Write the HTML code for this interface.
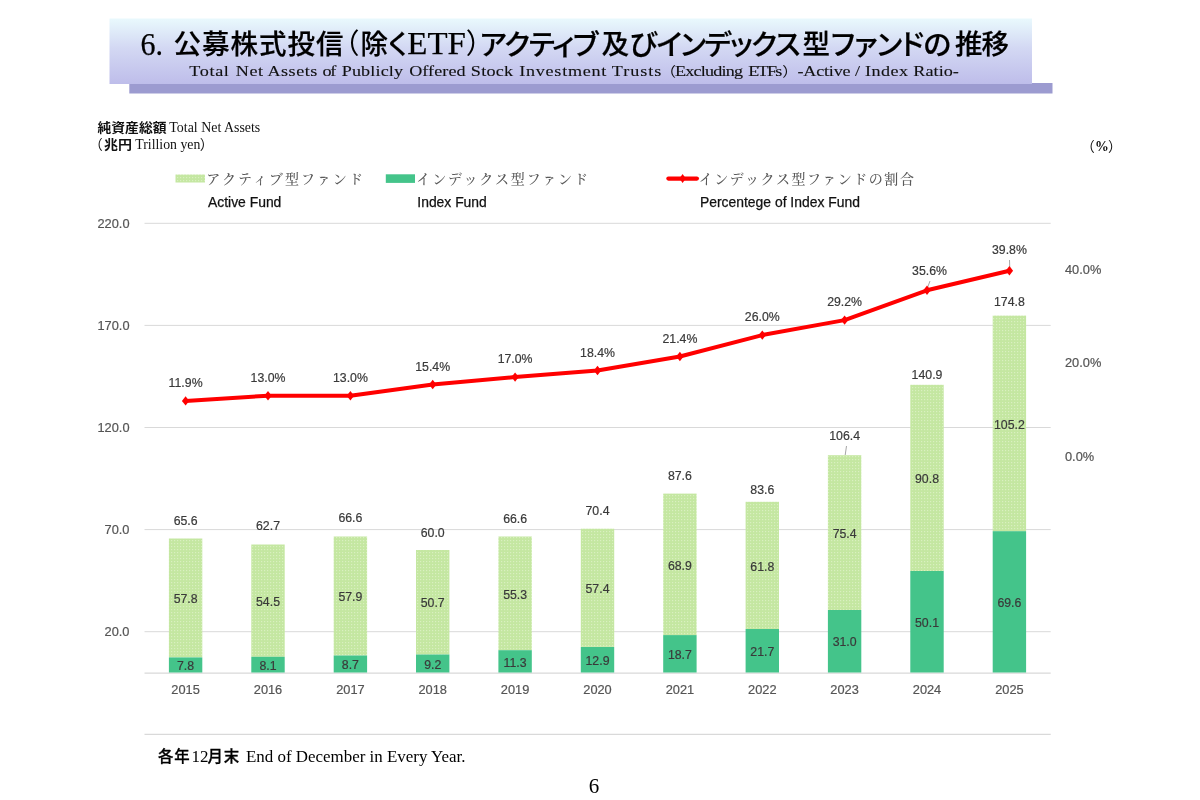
<!DOCTYPE html>
<html lang="ja">
<head>
<meta charset="utf-8">
<title>6. 公募株式投信（除くETF）アクティブ及びインデックス型ファンドの推移</title>
<style>
html,body{margin:0;padding:0;background:#fff;}
body{width:1200px;height:800px;overflow:hidden;}
svg{display:block;}
.ax{font-family:"Liberation Sans","Noto Sans CJK JP",sans-serif;font-size:12.8px;fill:#555;stroke:#555;stroke-width:0.2px;}
.dl{font-family:"Liberation Sans","Noto Sans CJK JP",sans-serif;font-size:12.3px;fill:#3a3a3a;stroke:#3a3a3a;stroke-width:0.2px;}
.lgj{font-family:"Liberation Serif","Noto Serif CJK SC",serif;font-size:14px;font-weight:500;fill:#5a5a5a;letter-spacing:1.1px;}
.lge{font-family:"Liberation Sans","Noto Sans CJK JP",sans-serif;font-size:13.9px;fill:#111;stroke:#111;stroke-width:0.25px;}
.ttl{font-family:"Liberation Serif","Noto Sans CJK JP",serif;font-size:27.5px;font-weight:500;fill:#000;stroke:#000;stroke-width:0.2px;font-feature-settings:"palt";}
.ttls{font-family:"Liberation Serif","Noto Sans CJK JP",serif;font-size:28px;font-weight:400;fill:#000;stroke-width:0;font-feature-settings:normal;}
.sub{font-family:"Liberation Serif","Noto Sans CJK JP",serif;font-size:15.5px;fill:#111;stroke:#111;stroke-width:0.12px;}
.ayt{font-family:"Liberation Serif","Noto Sans CJK JP",serif;font-size:13.8px;fill:#111;}
.ayt .b{font-weight:700;font-size:13px;}
.ft{font-family:"Liberation Serif","Noto Sans CJK JP",serif;font-size:17px;fill:#000;}
.ft .b{font-weight:500;font-size:15.4px;letter-spacing:0.9px;stroke:#000;stroke-width:0.3px;}
.pg{font-family:"Liberation Serif","Noto Sans CJK JP",serif;font-size:21px;fill:#000;}
</style>
</head>
<body>
<svg width="1200" height="800" viewBox="0 0 1200 800">
<defs>
<linearGradient id="hg" x1="0" y1="0" x2="0" y2="1">
<stop offset="0" stop-color="#e9f9fd"/>
<stop offset="0.45" stop-color="#d3d8f3"/>
<stop offset="1" stop-color="#bebdea"/>
</linearGradient>
<pattern id="dots" x="0" y="0" width="3" height="3" patternUnits="userSpaceOnUse">
<rect x="0" y="0" width="3" height="3" fill="#c4e7a1"/>
<rect x="0" y="0" width="1.2" height="1.2" fill="#d9f0c0"/>
</pattern>
</defs>
<rect x="0" y="0" width="1200" height="800" fill="#ffffff"/>

<rect x="129.3" y="83" width="923.2" height="10.5" fill="#9c9bd0"/>
<rect x="109.5" y="18.5" width="922.5" height="65.5" fill="url(#hg)"/>
<text class="ttl ttls" x="140.5" y="55" textLength="22.5" style="font-size:31px;stroke:#000;stroke-width:0.25px" lengthAdjust="spacingAndGlyphs">6.</text>
<text class="ttl" x="173.5" y="54.2" textLength="170" lengthAdjust="spacing">公募株式投信</text>
<text class="ttl ttls" x="331.5" y="54.2">（</text>
<text class="ttl" x="360.5" y="54.2" textLength="47" lengthAdjust="spacing">除く</text>
<text class="ttl ttls" x="407.3" y="54.1" textLength="58.5" style="font-size:31px;stroke:#000;stroke-width:0.25px" lengthAdjust="spacingAndGlyphs">ETF</text>
<text class="ttl ttls" x="465.7" y="54.2">）</text>
<text class="ttl" x="479.8" y="54.7" textLength="118.5" lengthAdjust="spacing" style="font-size:28.8px">アクティブ</text>
<text class="ttl" x="601.5" y="54.2">及</text>
<text class="ttl" x="629.5" y="54.7" style="font-size:28.8px">び</text>
<text class="ttl" x="656.5" y="54.7" textLength="144" lengthAdjust="spacing" style="font-size:28.8px">インデックス</text>
<text class="ttl" x="802.5" y="54.2">型</text>
<text class="ttl" x="831" y="54.7" textLength="93" lengthAdjust="spacing" style="font-size:28.8px">ファンド</text>
<text class="ttl" x="923.5" y="54.7" style="font-size:28.8px">の</text>
<text class="ttl" x="955" y="54.2" textLength="54" lengthAdjust="spacing">推移</text>
<text class="sub" y="76" transform="scale(1.17 1)"><tspan x="161.71" textLength="33.93" lengthAdjust="spacing">Total</tspan> <tspan x="201.54" textLength="23.33" lengthAdjust="spacing">Net</tspan> <tspan x="228.63" textLength="42.56" lengthAdjust="spacing">Assets</tspan> <tspan x="275.64" textLength="11.88" lengthAdjust="spacing">of</tspan> <tspan x="292.05" textLength="52.48" lengthAdjust="spacing">Publicly</tspan> <tspan x="349.74" textLength="48.21" lengthAdjust="spacing">Offered</tspan> <tspan x="402.39" textLength="36.15" lengthAdjust="spacing">Stock</tspan> <tspan x="443.76" textLength="74.53" lengthAdjust="spacing">Investment</tspan> <tspan x="522.82" textLength="42.48" lengthAdjust="spacing">Trusts</tspan> <tspan x="564.36" style="font-size:13.5px;stroke-width:0">（</tspan><tspan x="576.92" textLength="58.21" lengthAdjust="spacing">Excluding</tspan> <tspan x="639.57" textLength="29.06" lengthAdjust="spacing">ETFs</tspan> <tspan x="668.63" style="font-size:13.5px;stroke-width:0">）</tspan><tspan x="681.62" textLength="45.38" lengthAdjust="spacing">-Active</tspan> <tspan x="730.77" textLength="4.79" lengthAdjust="spacing">/</tspan> <tspan x="739.32" textLength="36.84" lengthAdjust="spacing">Index</tspan> <tspan x="780.60" textLength="38.97" lengthAdjust="spacing">Ratio-</tspan> </text>
<text class="ayt" x="97.5" y="131.5"><tspan class="b" textLength="69" lengthAdjust="spacingAndGlyphs">純資産総額</tspan><tspan x="169.3" textLength="91" lengthAdjust="spacingAndGlyphs">Total Net Assets</tspan></text>
<text class="ayt" y="148.5"><tspan x="89">（</tspan><tspan class="b" x="104" textLength="28" lengthAdjust="spacingAndGlyphs">兆円</tspan><tspan x="135.3" textLength="65" lengthAdjust="spacingAndGlyphs">Trillion yen</tspan><tspan x="199.8">）</tspan></text>
<text class="ayt" y="151" font-size="12.5"><tspan x="1081">（</tspan><tspan x="1095" font-weight="700">%</tspan><tspan x="1108">）</tspan></text>
<rect x="175.5" y="174.5" width="29.5" height="8" fill="url(#dots)"/>
<text class="lgj" x="206.3" y="184" textLength="157.7" lengthAdjust="spacing">アクティブ型ファンド</text>
<text class="lge" x="208" y="207">Active Fund</text>
<rect x="385.8" y="174.3" width="29.2" height="8.6" fill="#44c48a"/>
<text class="lgj" x="416.3" y="184" textLength="172.7" lengthAdjust="spacing">インデックス型ファンド</text>
<text class="lge" x="417.3" y="207">Index Fund</text>
<line x1="668.4" y1="178.6" x2="696.9" y2="178.6" stroke="#ff0000" stroke-width="4.2" stroke-linecap="round"/>
<path d="M682.6 174.1 L685.8 178.6 L682.6 183.1 L679.4 178.6 Z" fill="#ff0000"/>
<text class="lgj" x="698.8" y="184" textLength="216.2" lengthAdjust="spacing">インデックス型ファンドの割合</text>
<text class="lge" x="700" y="207">Percentege of Index Fund</text>
<line x1="144.5" y1="223.3" x2="1050.7" y2="223.3" stroke="#d9d9d9" stroke-width="1"/>
<text class="ax" x="129.5" y="227.8" text-anchor="end">220.0</text>
<line x1="144.5" y1="325.4" x2="1050.7" y2="325.4" stroke="#d9d9d9" stroke-width="1"/>
<text class="ax" x="129.5" y="329.9" text-anchor="end">170.0</text>
<line x1="144.5" y1="427.5" x2="1050.7" y2="427.5" stroke="#d9d9d9" stroke-width="1"/>
<text class="ax" x="129.5" y="432.0" text-anchor="end">120.0</text>
<line x1="144.5" y1="529.6" x2="1050.7" y2="529.6" stroke="#d9d9d9" stroke-width="1"/>
<text class="ax" x="129.5" y="534.1" text-anchor="end">70.0</text>
<line x1="144.5" y1="631.7" x2="1050.7" y2="631.7" stroke="#d9d9d9" stroke-width="1"/>
<text class="ax" x="129.5" y="636.2" text-anchor="end">20.0</text>
<line x1="144.5" y1="673.1" x2="1050.7" y2="673.1" stroke="#d9d9d9" stroke-width="1.3"/>
<text class="ax" x="1065" y="273.8">40.0%</text>
<text class="ax" x="1065" y="367.2">20.0%</text>
<text class="ax" x="1065" y="460.5">0.0%</text>
<rect x="168.9" y="538.5" width="33.4" height="118.8" fill="url(#dots)"/>
<rect x="168.9" y="657.4" width="33.4" height="15.1" fill="#44c48a"/>
<text class="dl" x="185.6" y="603.2" text-anchor="middle">57.8</text>
<text class="dl" x="185.6" y="670.1" text-anchor="middle">7.8</text>
<text class="dl" x="185.6" y="525.2" text-anchor="middle">65.6</text>
<text class="ax" x="185.6" y="694.0" text-anchor="middle">2015</text>
<rect x="251.3" y="544.5" width="33.4" height="112.3" fill="url(#dots)"/>
<rect x="251.3" y="656.8" width="33.4" height="15.7" fill="#44c48a"/>
<text class="dl" x="268.0" y="605.8" text-anchor="middle">54.5</text>
<text class="dl" x="268.0" y="669.8" text-anchor="middle">8.1</text>
<text class="dl" x="268.0" y="530.2" text-anchor="middle">62.7</text>
<text class="ax" x="268.0" y="694.0" text-anchor="middle">2016</text>
<rect x="333.7" y="536.5" width="33.4" height="119.0" fill="url(#dots)"/>
<rect x="333.7" y="655.5" width="33.4" height="17.0" fill="#44c48a"/>
<text class="dl" x="350.4" y="601.2" text-anchor="middle">57.9</text>
<text class="dl" x="350.4" y="669.2" text-anchor="middle">8.7</text>
<text class="dl" x="350.4" y="522.2" text-anchor="middle">66.6</text>
<text class="ax" x="350.4" y="694.0" text-anchor="middle">2017</text>
<rect x="416.0" y="550.0" width="33.4" height="104.5" fill="url(#dots)"/>
<rect x="416.0" y="654.5" width="33.4" height="18.0" fill="#44c48a"/>
<text class="dl" x="432.7" y="607.4" text-anchor="middle">50.7</text>
<text class="dl" x="432.7" y="668.7" text-anchor="middle">9.2</text>
<text class="dl" x="432.7" y="536.8" text-anchor="middle">60.0</text>
<text class="ax" x="432.7" y="694.0" text-anchor="middle">2018</text>
<rect x="498.4" y="536.5" width="33.4" height="113.7" fill="url(#dots)"/>
<rect x="498.4" y="650.2" width="33.4" height="22.3" fill="#44c48a"/>
<text class="dl" x="515.1" y="598.6" text-anchor="middle">55.3</text>
<text class="dl" x="515.1" y="666.6" text-anchor="middle">11.3</text>
<text class="dl" x="515.1" y="522.8" text-anchor="middle">66.6</text>
<text class="ax" x="515.1" y="694.0" text-anchor="middle">2019</text>
<rect x="580.8" y="528.7" width="33.4" height="118.2" fill="url(#dots)"/>
<rect x="580.8" y="647.0" width="33.4" height="25.5" fill="#44c48a"/>
<text class="dl" x="597.5" y="593.1" text-anchor="middle">57.4</text>
<text class="dl" x="597.5" y="664.9" text-anchor="middle">12.9</text>
<text class="dl" x="597.5" y="515.2" text-anchor="middle">70.4</text>
<text class="ax" x="597.5" y="694.0" text-anchor="middle">2020</text>
<rect x="663.2" y="493.6" width="33.4" height="141.5" fill="url(#dots)"/>
<rect x="663.2" y="635.1" width="33.4" height="37.4" fill="#44c48a"/>
<text class="dl" x="679.9" y="569.6" text-anchor="middle">68.9</text>
<text class="dl" x="679.9" y="659.0" text-anchor="middle">18.7</text>
<text class="dl" x="679.9" y="479.5" text-anchor="middle">87.6</text>
<text class="ax" x="679.9" y="694.0" text-anchor="middle">2021</text>
<rect x="745.6" y="501.8" width="33.4" height="127.2" fill="url(#dots)"/>
<rect x="745.6" y="629.0" width="33.4" height="43.5" fill="#44c48a"/>
<text class="dl" x="762.3" y="570.6" text-anchor="middle">61.8</text>
<text class="dl" x="762.3" y="655.9" text-anchor="middle">21.7</text>
<text class="dl" x="762.3" y="493.5" text-anchor="middle">83.6</text>
<text class="ax" x="762.3" y="694.0" text-anchor="middle">2022</text>
<rect x="827.9" y="455.2" width="33.4" height="154.8" fill="url(#dots)"/>
<rect x="827.9" y="610.0" width="33.4" height="62.5" fill="#44c48a"/>
<text class="dl" x="844.6" y="537.8" text-anchor="middle">75.4</text>
<text class="dl" x="844.6" y="646.4" text-anchor="middle">31.0</text>
<text class="dl" x="844.6" y="439.5" text-anchor="middle">106.4</text>
<text class="ax" x="844.6" y="694.0" text-anchor="middle">2023</text>
<rect x="910.3" y="384.8" width="33.4" height="186.2" fill="url(#dots)"/>
<rect x="910.3" y="571.0" width="33.4" height="101.5" fill="#44c48a"/>
<text class="dl" x="927.0" y="483.1" text-anchor="middle">90.8</text>
<text class="dl" x="927.0" y="626.9" text-anchor="middle">50.1</text>
<text class="dl" x="927.0" y="378.5" text-anchor="middle">140.9</text>
<text class="ax" x="927.0" y="694.0" text-anchor="middle">2024</text>
<rect x="992.7" y="315.6" width="33.4" height="215.6" fill="url(#dots)"/>
<rect x="992.7" y="531.2" width="33.4" height="141.3" fill="#44c48a"/>
<text class="dl" x="1009.4" y="428.6" text-anchor="middle">105.2</text>
<text class="dl" x="1009.4" y="607.0" text-anchor="middle">69.6</text>
<text class="dl" x="1009.4" y="305.5" text-anchor="middle">174.8</text>
<text class="ax" x="1009.4" y="694.0" text-anchor="middle">2025</text>
<path d="M846.5 446 L845.2 455" stroke="#a6a6a6" stroke-width="1" fill="none"/>
<path d="M930 281 L927 289" stroke="#a6a6a6" stroke-width="1" fill="none"/>
<path d="M1009.5 260 L1009.8 269" stroke="#a6a6a6" stroke-width="1" fill="none"/>
<polyline points="185.6,400.9 268.0,395.7 350.4,395.7 432.7,384.5 515.1,377.1 597.5,370.5 679.9,356.5 762.3,335.1 844.6,320.1 927.0,290.3 1009.4,270.7" fill="none" stroke="#ff0000" stroke-width="4.0" stroke-linejoin="round" stroke-linecap="round"/>
<path d="M185.6 396.2 L189.3 400.9 L185.6 405.6 L181.9 400.9 Z" fill="#ff0000"/>
<text class="dl" x="185.6" y="386.9" text-anchor="middle">11.9%</text>
<path d="M268.0 391.0 L271.7 395.7 L268.0 400.4 L264.3 395.7 Z" fill="#ff0000"/>
<text class="dl" x="268.0" y="382.1" text-anchor="middle">13.0%</text>
<path d="M350.4 391.0 L354.1 395.7 L350.4 400.4 L346.7 395.7 Z" fill="#ff0000"/>
<text class="dl" x="350.4" y="381.7" text-anchor="middle">13.0%</text>
<path d="M432.7 379.8 L436.4 384.5 L432.7 389.2 L429.0 384.5 Z" fill="#ff0000"/>
<text class="dl" x="432.7" y="370.5" text-anchor="middle">15.4%</text>
<path d="M515.1 372.4 L518.8 377.1 L515.1 381.8 L511.4 377.1 Z" fill="#ff0000"/>
<text class="dl" x="515.1" y="362.8" text-anchor="middle">17.0%</text>
<path d="M597.5 365.8 L601.2 370.5 L597.5 375.2 L593.8 370.5 Z" fill="#ff0000"/>
<text class="dl" x="597.5" y="356.5" text-anchor="middle">18.4%</text>
<path d="M679.9 351.8 L683.6 356.5 L679.9 361.2 L676.2 356.5 Z" fill="#ff0000"/>
<text class="dl" x="679.9" y="342.5" text-anchor="middle">21.4%</text>
<path d="M762.3 330.4 L766.0 335.1 L762.3 339.8 L758.6 335.1 Z" fill="#ff0000"/>
<text class="dl" x="762.3" y="320.8" text-anchor="middle">26.0%</text>
<path d="M844.6 315.4 L848.3 320.1 L844.6 324.8 L840.9 320.1 Z" fill="#ff0000"/>
<text class="dl" x="844.6" y="306.1" text-anchor="middle">29.2%</text>
<path d="M927.0 285.6 L930.7 290.3 L927.0 295.0 L923.3 290.3 Z" fill="#ff0000"/>
<text class="dl" x="929.5" y="275.3" text-anchor="middle">35.6%</text>
<path d="M1009.4 266.0 L1013.1 270.7 L1009.4 275.4 L1005.7 270.7 Z" fill="#ff0000"/>
<text class="dl" x="1009.4" y="253.7" text-anchor="middle">39.8%</text>
<line x1="144.5" y1="734.3" x2="1050.7" y2="734.3" stroke="#d9d9d9" stroke-width="1.3"/>
<text class="ft" x="158" y="761.6"><tspan class="b">各年</tspan><tspan x="191.5">12</tspan><tspan class="b" x="207.5">月末</tspan><tspan x="246"  textLength="219.5" lengthAdjust="spacingAndGlyphs">End of December in Every Year.</tspan></text>
<text class="pg" x="594" y="793" text-anchor="middle">6</text>
</svg>
</body>
</html>
